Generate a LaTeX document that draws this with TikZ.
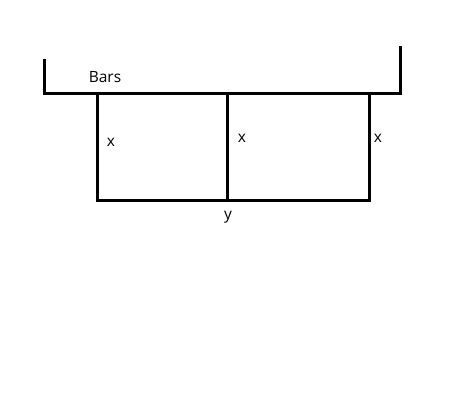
\documentclass[tikz,border=0pt]{standalone}
\usepackage{fontspec}
\setmainfont{Open Sans}
\usetikzlibrary{positioning}

\begin{document}
\begin{tikzpicture}[x=1pt, y=-1pt, bar/.style={line width=3pt}, lbl/.style={font=\fontsize{15.5}{18}\selectfont, inner sep=0pt}]
        % Canvas of the reference
        \useasboundingbox (0,0) rectangle (449,418);

        % Corners of the bar frame
        \coordinate (tl) at (44,59);
        \coordinate (bl) at (44,93);
        \coordinate (br) at (400,93);
        \coordinate (tr) at (400,46);

        % Corners of the pen
        \coordinate (p1) at (97,93);
        \coordinate (p2) at (227,93);
        \coordinate (p3) at (369,93);
        \coordinate (q1) at (97,200);
        \coordinate (q2) at (227,200);
        \coordinate (q3) at (369,200);

        \draw[bar] (tl) -- (bl) -- (br) -- (tr);
        \draw[bar] (p1) -- (q1) -- (q3) -- (p3);
        \draw[bar] (p2) -- (q2);

        % Labels
        \node[lbl] (bars) at (105,77) {Bars};
        \node[lbl] (x1) at (111,142) {x};
        \node[lbl] (x2) at (242,138) {x};
        \node[lbl] (x3) at (378,138) {x};
        \node[lbl] (y) at (228,217) {y};
      \end{tikzpicture}
\end{document}
